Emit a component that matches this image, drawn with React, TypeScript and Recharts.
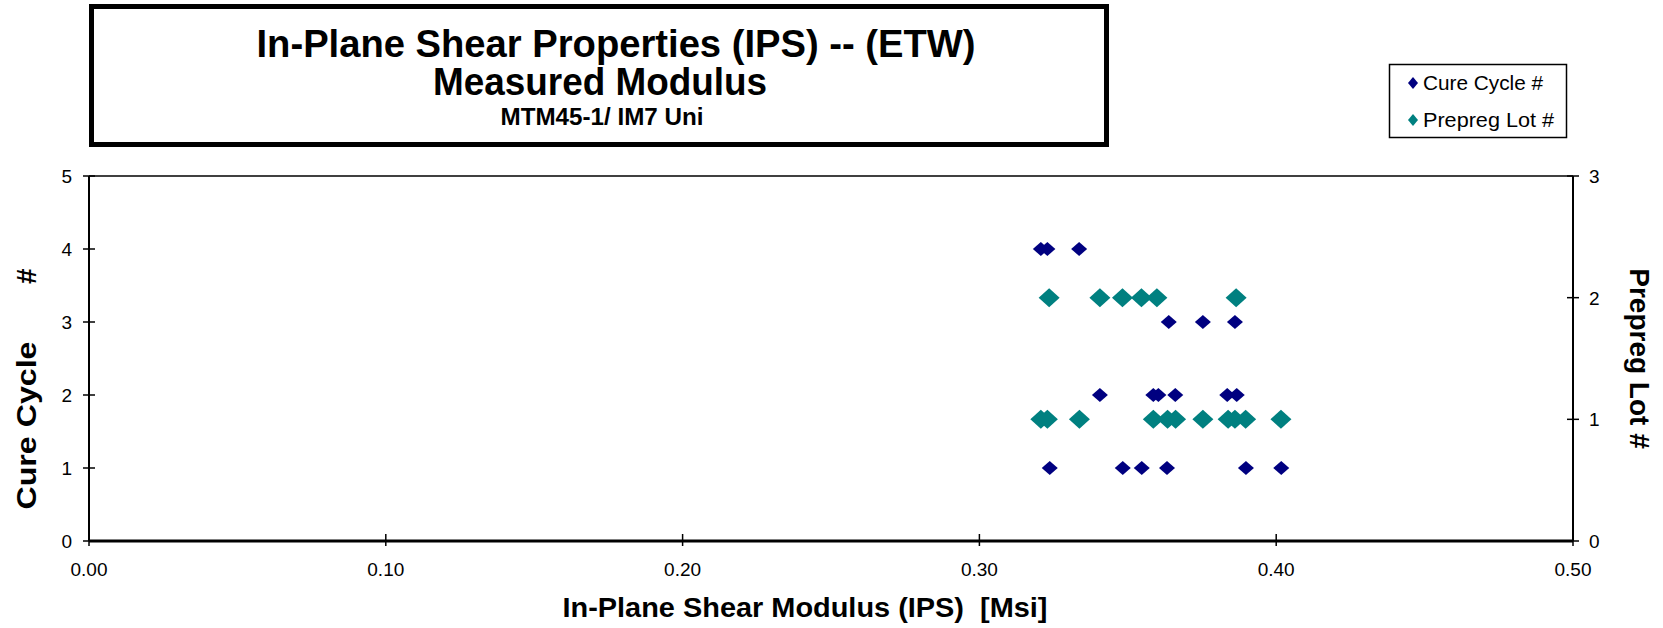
import React from 'react';
import {
  ScatterChart,
  Scatter,
  XAxis,
  YAxis,
  ReferenceLine,
} from 'recharts';

// In-Plane Shear modulus [Msi] vs cure cycle # (left axis)
const cureModulus = [
  0.3207, 0.3229, 0.3336,
  0.3638, 0.3753, 0.3861,
  0.3406, 0.3586, 0.3603, 0.3660, 0.3835, 0.3867,
  0.3237, 0.3483, 0.3547, 0.3632, 0.3898, 0.4017,
];
const cureCycle = [4, 4, 4, 3, 3, 3, 2, 2, 2, 2, 2, 2, 1, 1, 1, 1, 1, 1];

// modulus vs prepreg lot # (right axis)
const lotModulus = [
  0.3235, 0.3406, 0.3482, 0.3546, 0.3598, 0.3865,
  0.3207, 0.3229, 0.3337, 0.3586, 0.3634, 0.3661, 0.3753, 0.3838, 0.3861, 0.3897, 0.4016,
];
const lotNumber = [2, 2, 2, 2, 2, 2, 1, 1, 1, 1, 1, 1, 1, 1, 1, 1, 1];

const xTicks = [0, 0.1, 0.2, 0.3, 0.4, 0.5];
const cureTicks = [0, 1, 2, 3, 4, 5];
const lotTicks = [0, 1, 2, 3];

const cureData = cureModulus.map((x, i) => ({ x, y: cureCycle[i] }));
const lotData = lotModulus.map((x, i) => ({ x, y: lotNumber[i] }));

const FONT = '"Liberation Sans", Arial, sans-serif';
const NAVY = '#000080';
const TEAL = '#008080';

const diamond = (hw: number, hh: number) => (props: any) => {
  const { cx, cy, fill } = props;
  if (cx == null || cy == null) return <g />;
  return (
    <polygon
      points={`${cx},${cy - hh} ${cx + hw},${cy} ${cx},${cy + hh} ${cx - hw},${cy}`}
      fill={fill}
    />
  );
};

const LeftTick = (props: any) => {
  const { x, y, payload } = props;
  return (
    <g>
      <line x1={x - 6} x2={x + 6} y1={y} y2={y} stroke="#000" strokeWidth={1.5} />
      <text x={x - 17} y={y + 7} textAnchor="end" fontSize={19} fontFamily={FONT} fill="#000">
        {payload.value}
      </text>
    </g>
  );
};

const RightTick = (props: any) => {
  const { x, y, payload } = props;
  return (
    <g>
      <line x1={x - 6} x2={x + 6} y1={y} y2={y} stroke="#000" strokeWidth={1.5} />
      <text x={x + 16} y={y + 7} textAnchor="start" fontSize={19} fontFamily={FONT} fill="#000">
        {payload.value}
      </text>
    </g>
  );
};

const BottomTick = (props: any) => {
  const { x, y, payload } = props;
  return (
    <g>
      <line x1={x} x2={x} y1={y - 7} y2={y + 5} stroke="#000" strokeWidth={1.5} />
      <text x={x} y={y + 35} textAnchor="middle" fontSize={19} fontFamily={FONT} fill="#000">
        {Number(payload.value).toFixed(2)}
      </text>
    </g>
  );
};

const CureLabel = (props: any) => {
  const vb = props.viewBox || { x: 29, y: 176, width: 60, height: 365 };
  const cx = vb.x - 3;
  const cy = vb.y + vb.height / 2 + 30;
  return (
    <g transform={`translate(${cx}, ${cy}) rotate(-90)`}>
      <text x={-121} y={10} textAnchor="start" fontSize={28} fontWeight="bold" fontFamily={FONT} fill="#000"
        textLength={168} lengthAdjust="spacingAndGlyphs">
        Cure Cycle
      </text>
      <text x={120} y={10} textAnchor="end" fontSize={28} fontWeight="bold" fontFamily={FONT} fill="#000">
        #
      </text>
    </g>
  );
};

const LotLabel = (props: any) => {
  const vb = props.viewBox || { x: 1573, y: 176, width: 60, height: 365 };
  const cx = vb.x + 67;
  const cy = vb.y + vb.height / 2;
  return (
    <g transform={`translate(${cx}, ${cy}) rotate(90)`}>
      <text x={0} y={10} textAnchor="middle" fontSize={28} fontWeight="bold" fontFamily={FONT} fill="#000">
        Prepreg Lot #
      </text>
    </g>
  );
};

const ModulusLabel = (props: any) => {
  const vb = props.viewBox || { x: 89, y: 541, width: 1484, height: 40 };
  return (
    <text
      x={vb.x + vb.width / 2 - 26}
      y={vb.y + 76}
      textAnchor="middle"
      fontSize={28}
      fontWeight="bold"
      fontFamily={FONT}
      fill="#000"
      textLength={485}
      lengthAdjust="spacingAndGlyphs"
      style={{ whiteSpace: 'pre' }}
    >
      {'In-Plane Shear Modulus (IPS)  [Msi]'}
    </text>
  );
};

export default function App() {
  return (
    <div style={{ position: 'absolute', left: 0, top: 0, width: 1663, height: 628, background: '#fff' }}>
      {/* title box */}
      <svg width={1663} height={150} style={{ position: 'absolute', left: 0, top: 0 }}>
        <rect x={91.5} y={6.5} width={1015} height={138} fill="#fff" stroke="#000" strokeWidth={5} />
        <text x={616} y={57} textAnchor="middle" fontSize={38} fontWeight="bold" fontFamily={FONT}
          textLength={719} lengthAdjust="spacingAndGlyphs">
          In-Plane Shear Properties (IPS) -- (ETW)
        </text>
        <text x={600} y={95} textAnchor="middle" fontSize={38} fontWeight="bold" fontFamily={FONT}
          textLength={334} lengthAdjust="spacingAndGlyphs">
          Measured Modulus
        </text>
        <text x={602} y={125} textAnchor="middle" fontSize={23} fontWeight="bold" fontFamily={FONT}
          textLength={203} lengthAdjust="spacingAndGlyphs">
          MTM45-1/ IM7 Uni
        </text>
      </svg>

      {/* legend */}
      <svg width={200} height={90} style={{ position: 'absolute', left: 1380, top: 56 }}>
        <rect x={9.5} y={8.5} width={177} height={73} fill="#fff" stroke="#000" strokeWidth={1.5} />
        <polygon points="33,21 38,27 33,33 28,27" fill={NAVY} />
        <text x={43} y={34} fontSize={20} fontFamily={FONT} textLength={120} lengthAdjust="spacingAndGlyphs">
          Cure Cycle #
        </text>
        <polygon points="33,58 38,64 33,70 28,64" fill={TEAL} />
        <text x={43} y={71} fontSize={20} fontFamily={FONT} textLength={131} lengthAdjust="spacingAndGlyphs">
          Prepreg Lot #
        </text>
      </svg>

      <ScatterChart
        width={1663}
        height={628}
        margin={{ top: 176, right: 30, bottom: 47, left: 29 }}
        style={{ position: 'absolute', left: 0, top: 0 }}
      >
        <XAxis
          type="number"
          dataKey="x"
          domain={[0, 0.5]}
          ticks={xTicks}
          height={40}
          tickSize={0}
          tickMargin={0}
          tick={<BottomTick />}
          axisLine={{ stroke: '#000', strokeWidth: 3 }}
          tickLine={false}
          allowDataOverflow
          label={<ModulusLabel />}
        />
        <YAxis
          yAxisId="left"
          type="number"
          dataKey="y"
          domain={[0, 5]}
          ticks={cureTicks}
          width={60}
          tickSize={0}
          tickMargin={0}
          tick={<LeftTick />}
          axisLine={{ stroke: '#000', strokeWidth: 2 }}
          tickLine={false}
          label={<CureLabel />}
        />
        <YAxis
          yAxisId="right"
          orientation="right"
          type="number"
          dataKey="y"
          domain={[0, 3]}
          ticks={lotTicks}
          width={60}
          tickSize={0}
          tickMargin={0}
          tick={<RightTick />}
          axisLine={{ stroke: '#000', strokeWidth: 2 }}
          tickLine={false}
          label={<LotLabel />}
        />
        <ReferenceLine yAxisId="left" y={5} stroke="#000" strokeWidth={1.5} />
        <Scatter
          name="Cure Cycle #"
          yAxisId="left"
          data={cureData}
          fill={NAVY}
          shape={diamond(8, 7)}
          isAnimationActive={false}
        />
        <Scatter
          name="Prepreg Lot #"
          yAxisId="right"
          data={lotData}
          fill={TEAL}
          shape={diamond(10.5, 9.5)}
          isAnimationActive={false}
        />
      </ScatterChart>
    </div>
  );
}
